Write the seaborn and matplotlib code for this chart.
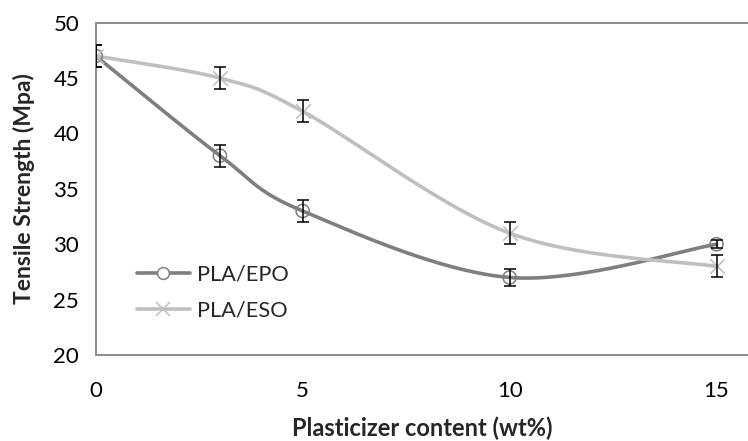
import numpy as np
import matplotlib
matplotlib.use("Agg")
import matplotlib.pyplot as plt
from matplotlib.lines import Line2D
import seaborn as sns
import pandas as pd

# Plasticizer content (wt%) and tensile strength (MPa) with error bars
content = [0, 3, 5, 10, 15]
epo_strength = [47, 38, 33, 27, 30]
epo_err = [1.0, 1.0, 1.0, 0.75, 0.35]
eso_strength = [47, 45, 42, 31, 28]
eso_err = [1.0, 1.0, 1.0, 1.0, 1.0]
series_names = ["PLA/EPO", "PLA/ESO"]
x_ticks = [0, 5, 10, 15]
y_ticks = [20, 25, 30, 35, 40, 45, 50]

EPO_COLOR = "#7f7f7f"
ESO_COLOR = "#bfbfbf"
AXIS_COLOR = "#8c8c8c"


def smooth_curve(xs, ys, n=60):
    """Cubic Bezier smoothing through every point (Catmull-Rom style)."""
    pts = np.column_stack([xs, ys]).astype(float)
    ext = np.vstack([pts[0], pts, pts[-1]])
    out = []
    t = np.linspace(0, 1, n)[:, None]
    for i in range(len(pts) - 1):
        p0 = ext[i + 1]
        p3 = ext[i + 2]
        c1 = p0 + (ext[i + 2] - ext[i]) / 6.0
        c2 = p3 - (ext[i + 3] - ext[i + 1]) / 6.0
        seg = ((1 - t) ** 3) * p0 + 3 * ((1 - t) ** 2) * t * c1 \
            + 3 * (1 - t) * t ** 2 * c2 + t ** 3 * p3
        out.append(seg if i == 0 else seg[1:])
    arr = np.vstack(out)
    return arr[:, 0], arr[:, 1]


sns.set_style("white")
plt.rcParams["font.family"] = ["Lato", "DejaVu Sans"]

fig = plt.figure(figsize=(7.48, 4.41), dpi=100)
ax = fig.add_axes([0.128, 0.195, 0.872, 0.7535])

for ys, err, color, marker in [
    (epo_strength, epo_err, EPO_COLOR, "o"),
    (eso_strength, eso_err, ESO_COLOR, "x"),
]:
    sx, sy = smooth_curve(content, ys)
    curve = pd.DataFrame({"x": sx, "y": sy})
    sns.lineplot(data=curve, x="x", y="y", ax=ax, color=color, lw=2.6,
                 sort=False, estimator=None, zorder=2)
    if marker == "o":
        ax.scatter(content, ys, s=90, facecolors="none", edgecolors=color,
                   linewidths=1.1, zorder=3)
    else:
        ax.scatter(content, ys, s=110, marker="x", color=color,
                   linewidths=1.1, zorder=3)
    ax.errorbar(content, ys, yerr=err, fmt="none", ecolor="black",
                elinewidth=1.1, capsize=4.5, capthick=1.1, zorder=4)

ax.set_xlim(0, 15.76)
ax.set_ylim(20, 50)
ax.set_xticks(x_ticks)
ax.set_yticks(y_ticks)
ax.tick_params(axis="both", labelsize=16, colors=AXIS_COLOR, length=8,
               width=1.2, direction="out", labelcolor="black")
ax.tick_params(axis="x", pad=11)
ax.tick_params(axis="y", pad=4)

for side in ["left", "bottom", "top"]:
    ax.spines[side].set_color(AXIS_COLOR)
    ax.spines[side].set_linewidth(1.4)
ax.spines["right"].set_visible(False)

ax.set_xlabel("Plasticizer content (wt%)", fontsize=17, fontweight="bold",
              labelpad=11)
ax.set_ylabel("Tensile Strength (Mpa)", fontsize=16.5, fontweight="bold",
              labelpad=13)

handles = [
    Line2D([0], [0], color=EPO_COLOR, lw=2.6, marker="o", markersize=8.5,
           markerfacecolor="white", markeredgecolor=EPO_COLOR,
           markeredgewidth=1.1),
    Line2D([0], [0], color=ESO_COLOR, lw=2.6, marker="x", markersize=10,
           markeredgecolor=ESO_COLOR, markeredgewidth=1.1),
]
ax.legend(handles, series_names, loc="center left",
          bbox_to_anchor=(0.063, 0.188), frameon=False, fontsize=15.7,
          handlelength=2.43, handletextpad=0.32, labelspacing=0.75,
          borderaxespad=0, borderpad=0)

fig.savefig("out.png", dpi=100)
